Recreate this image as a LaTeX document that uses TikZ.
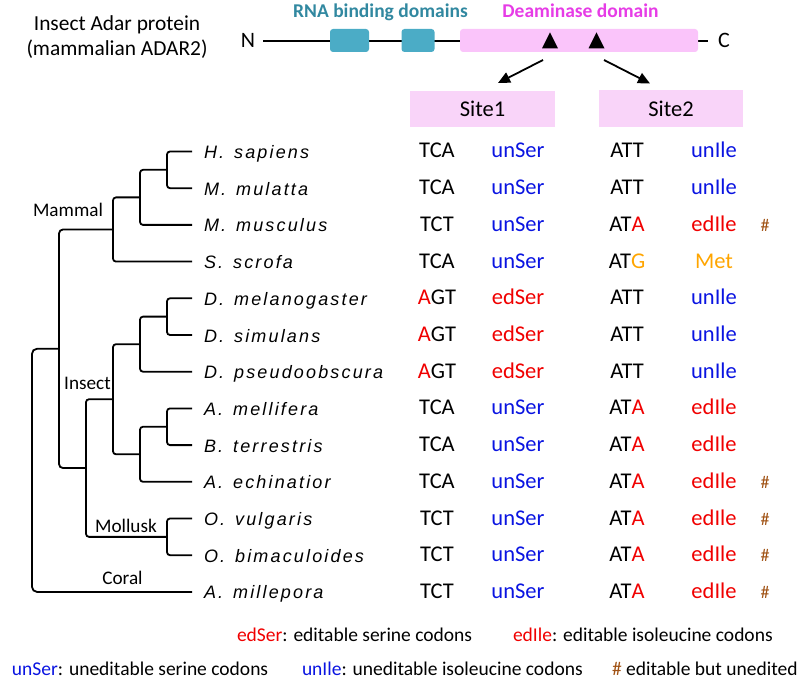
\documentclass[tikz,border=0pt]{standalone}
\usepackage{fontspec}
\setmainfont{Carlito}
\newfontfamily\spfam{Liberation Sans}[LetterSpace=12]
\usetikzlibrary{arrows.meta,shapes.geometric,calc}
\newcommand\myfs[1]{\fontsize{#1}{#1}\selectfont}
\definecolor{tealbox}{RGB}{75,172,198}
\definecolor{tealtxt}{RGB}{49,136,160}
\definecolor{magtxt}{RGB}{230,60,230}
\definecolor{pinkbox}{RGB}{250,196,250}
\definecolor{sitebox}{RGB}{249,212,249}
\definecolor{blu}{RGB}{10,20,225}
\definecolor{rd}{RGB}{240,0,0}
\definecolor{org}{RGB}{255,165,0}
\definecolor{brn}{RGB}{160,82,20}
\newcommand\myrow[8]{%
  \coordinate (t#1) at (192,#2);
  \node[spn] (sp#1) at (204,#2+7) {#3\hspace{10pt}#4};
  \node[cod] (ca#1) at (437,#2+6.5) {#5};
  \node[cod] (aa#1) at (518,#2+6.5) {#6};
  \node[cod] (cb#1) at (627,#2+6.5) {#7};
  \node[cod] (ab#1) at (714,#2+6.5) {#8};
}
\begin{document}
\begin{tikzpicture}[x=1pt,y=-1pt,
  txt/.style={inner sep=0pt, outer sep=0pt},
  spn/.style={txt, anchor=base west, font=\spfam\itshape\myfs{18}},
  cod/.style={txt, anchor=base, font=\myfs{22.5}},
  lab/.style={txt, anchor=base, font=\myfs{19.2}},
  leg/.style={txt, anchor=base west, font=\myfs{19.5}},
  hashn/.style={txt, anchor=base, font=\myfs{18}, text=brn},
  br/.style={line width=1.8pt, rounded corners=3pt},
  pline/.style={line width=1.8pt},
  dombox/.style={inner sep=0pt, rounded corners=3pt},
  tri/.style={isosceles triangle, shape border rotate=90, isosceles triangle stretches,
    minimum height=16pt, minimum width=16pt, inner sep=0pt, fill=black},
  arr/.style={line width=1.8pt, -{Triangle[length=12pt,width=11pt]}}]
\useasboundingbox (0,0) rectangle (800,684);

% ---- header ----
\node[txt, anchor=base, font=\myfs{21.4}] (title1) at (117,30.5) {Insect Adar protein};
\node[txt, anchor=base, font=\myfs{21.4}] (title2) at (117,56) {(mammalian ADAR2)};
\node[txt, anchor=base, font=\myfs{22}] (Nl) at (248,48) {N};
\node[txt, anchor=base, font=\myfs{22}] (Cl) at (724,48) {C};
\coordinate (pL) at (263,41);
\coordinate (pR) at (708,41);
\draw[pline] (pL) -- (pR);
\node[dombox, fill=tealbox, minimum width=39pt, minimum height=23pt] (rb1) at (349.5,40.5) {};
\node[dombox, fill=tealbox, minimum width=33pt, minimum height=23pt] (rb2) at (418,40.5) {};
\node[dombox, fill=pinkbox, minimum width=238pt, minimum height=23pt] (deam) at (579,40.5) {};
\node[txt, anchor=base, font=\bfseries\myfs{19.5}, text=tealtxt] (rbl) at (380.5,17.5) {RNA binding domains};
\node[txt, anchor=base, font=\bfseries\myfs{19.5}, text=magtxt] (dml) at (580.5,17.5) {Deaminase domain};
\node[tri] (tri1) at (550,43.5) {};
\node[tri] (tri2) at (596.5,43.5) {};
\node[fill=sitebox, minimum width=145pt, minimum height=36pt, inner sep=0pt, font=\myfs{22.5}] (site1) at (482.5,109) {Site1};
\node[fill=sitebox, minimum width=144pt, minimum height=37pt, inner sep=0pt, font=\myfs{22.5}] (site2) at (671,108.5) {Site2};
\draw[arr] ($(tri1.center)+(-7,16.5)$) -- ($(site1.center)+(15.5,-26)$);
\draw[arr] ($(tri2.center)+(7.5,16.5)$) -- ($(site2.center)+(-21,-25)$);

% ---- rows ----
\myrow{1}{151.5}{H.}{sapiens}{TCA}{\textcolor{blu}{unSer}}{ATT}{\textcolor{blu}{unIle}}
\myrow{2}{188.2}{M.}{mulatta}{TCA}{\textcolor{blu}{unSer}}{ATT}{\textcolor{blu}{unIle}}
\myrow{3}{224.9}{M.}{musculus}{TCT}{\textcolor{blu}{unSer}}{AT\textcolor{rd}{A}}{\textcolor{rd}{edIle}}
\myrow{4}{261.6}{S.}{scrofa}{TCA}{\textcolor{blu}{unSer}}{AT\textcolor{org}{G}}{\textcolor{org}{Met}}
\myrow{5}{298.3}{D.}{melanogaster}{\textcolor{rd}{A}GT}{\textcolor{rd}{edSer}}{ATT}{\textcolor{blu}{unIle}}
\myrow{6}{335.0}{D.}{simulans}{\textcolor{rd}{A}GT}{\textcolor{rd}{edSer}}{ATT}{\textcolor{blu}{unIle}}
\myrow{7}{371.7}{D.}{pseudoobscura}{\textcolor{rd}{A}GT}{\textcolor{rd}{edSer}}{ATT}{\textcolor{blu}{unIle}}
\myrow{8}{408.4}{A.}{mellifera}{TCA}{\textcolor{blu}{unSer}}{AT\textcolor{rd}{A}}{\textcolor{rd}{edIle}}
\myrow{9}{445.1}{B.}{terrestris}{TCA}{\textcolor{blu}{unSer}}{AT\textcolor{rd}{A}}{\textcolor{rd}{edIle}}
\myrow{10}{481.8}{A.}{echinatior}{TCA}{\textcolor{blu}{unSer}}{AT\textcolor{rd}{A}}{\textcolor{rd}{edIle}}
\myrow{11}{518.5}{O.}{vulgaris}{TCT}{\textcolor{blu}{unSer}}{AT\textcolor{rd}{A}}{\textcolor{rd}{edIle}}
\myrow{12}{555.2}{O.}{bimaculoides}{TCT}{\textcolor{blu}{unSer}}{AT\textcolor{rd}{A}}{\textcolor{rd}{edIle}}
\myrow{13}{591.9}{A.}{millepora}{TCT}{\textcolor{blu}{unSer}}{AT\textcolor{rd}{A}}{\textcolor{rd}{edIle}}
\node[hashn] (h3) at (765,231.4) {\#};
\node[hashn] (h10) at (765,488.3) {\#};
\node[hashn] (h11) at (765,525) {\#};
\node[hashn] (h12) at (765,561.7) {\#};
\node[hashn] (h13) at (765,598.4) {\#};

% ---- tree ----
\coordinate (n1) at (167,169.85);
\coordinate (n2) at (140,197.4);
\coordinate (n3) at (113,229.5);
\coordinate (n4) at (167,316.65);
\coordinate (n5) at (140,344.2);
\coordinate (n6) at (167,426.75);
\coordinate (n7) at (140,454.3);
\coordinate (n8) at (113,399.25);
\coordinate (n9) at (167,536.85);
\coordinate (n10) at (86,468.05);
\coordinate (n11) at (59,348.8);
\coordinate (root) at (32,470.35);
\draw[br] (t1) -| (n1) |- (t2);
\draw[br] (n1) -| (n2) |- (t3);
\draw[br] (n2) -| (n3) |- (t4);
\draw[br] (t5) -| (n4) |- (t6);
\draw[br] (n4) -| (n5) |- (t7);
\draw[br] (t8) -| (n6) |- (t9);
\draw[br] (n6) -| (n7) |- (t10);
\draw[br] (n5) -| (n8) |- (n7);
\draw[br] (t11) -| (n9) |- (t12);
\draw[br] (n8) -| (n10) |- (n9);
\draw[br, rounded corners=4pt] (n3) -| (n11) |- (n10);
\draw[br, rounded corners=5pt] (n11) -| (root) |- (t13);
\node[lab] (mam) at (68,217) {Mammal};
\node[lab] (ins) at (87.5,389) {Insect};
\node[lab] (mol) at (126,532) {Mollusk};
\node[lab] (cor) at (122.5,584) {Coral};

% ---- legend ----
\node[leg] (l1) at (237,641) {\textcolor{rd}{edSer}: editable serine codons};
\node[leg] (l2) at (513,641) {\textcolor{rd}{edIle}: editable isoleucine codons};
\node[leg] (l3) at (12,675) {\textcolor{blu}{unSer}: uneditable serine codons};
\node[leg] (l4) at (302,675) {\textcolor{blu}{unIle}: uneditable isoleucine codons};
\node[leg] (l5) at (612,675) {\textcolor{brn}{\#} editable but unedited};
\end{tikzpicture}
\end{document}
